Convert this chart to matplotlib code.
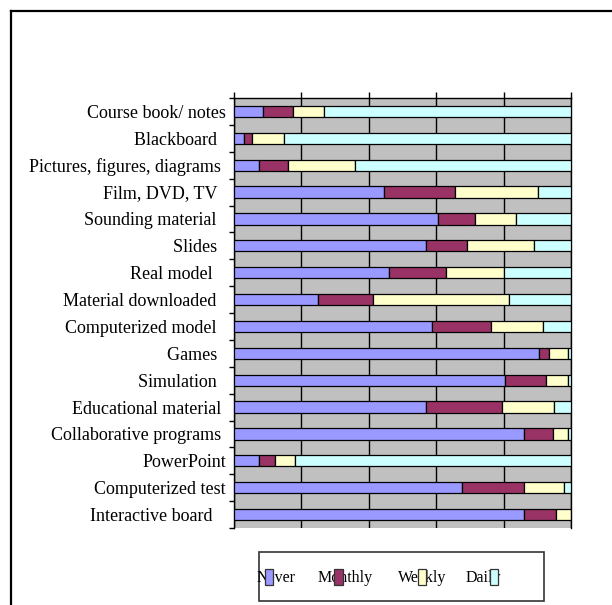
import matplotlib
matplotlib.use('Agg')
import matplotlib.pyplot as plt
from matplotlib.patches import Rectangle
import numpy as np

categories = ["Course book/ notes", "Blackboard  ", "Pictures, figures, diagrams ",
              "Film, DVD, TV  ", "Sounding material  ", "Slides  ", "Real model   ",
              "Material downloaded  ", "Computerized model  ", "Games  ", "Simulation  ",
              "Educational material ", "Collaborative programs ", "PowerPoint",
              "Computerized test", "Interactive board   "]
never   = [8.7, 3.1, 7.6, 44.6, 60.7, 57.0, 46.1, 24.9, 58.8, 90.6, 80.5, 57.0, 86.1, 7.6, 67.8, 86.1]
monthly = [8.9, 2.3, 8.6, 20.9, 10.8, 12.2, 16.8, 16.3, 17.5, 2.8, 12.0, 22.7, 8.5, 4.6, 18.3, 9.6]
weekly  = [9.1, 9.7, 19.9, 24.7, 12.3, 19.9, 17.1, 40.4, 15.4, 5.7, 6.6, 15.3, 4.5, 5.9, 11.9, 4.3]
daily   = [73.3, 84.9, 63.9, 9.8, 16.2, 10.9, 20.0, 18.4, 8.3, 0.9, 0.9, 5.0, 0.9, 81.9, 2.0, 0.0]
series_names = ["Never", "Monthly", "Weekly", "Daily"]
colors = ["#9999FF", "#993366", "#FFFFCC", "#CCFFFF"]
xticks = [0, 20, 40, 60, 80, 100]

W, H = 612, 605
fig = plt.figure(figsize=(W / 100, H / 100), dpi=100)
fig.patch.set_facecolor('white')

def fx(px):
    return px / W

def fy(py):
    return 1 - py / H

serif = 'Liberation Serif'

# outer chart frame
fig.add_artist(plt.Line2D([fx(11), fx(11)], [fy(11), fy(H + 5)], color='black', lw=1.6,
                          transform=fig.transFigure))
fig.add_artist(plt.Line2D([fx(11), fx(W + 5)], [fy(11), fy(11)], color='black', lw=1.6,
                          transform=fig.transFigure))

ax = fig.add_axes([fx(233.5), fy(528), (571 - 233.5) / W, (528 - 98) / H])
ax.set_facecolor('#C0C0C0')

y = np.arange(len(categories))
left = np.zeros(len(categories))
for vals, col in zip([never, monthly, weekly, daily], colors):
    vals = np.array(vals)
    ax.barh(y, vals, left=left, height=0.42, color=col, edgecolor='black',
            linewidth=0.9, zorder=3)
    left += vals

ax.set_xlim(0, 100)
ax.set_ylim(len(categories) - 0.5, -0.5)
ax.xaxis.tick_top()
ax.set_xticks(xticks)
ax.tick_params(axis='x', direction='out', length=4.5, width=1, color='black',
               labeltop=False, labelbottom=False)
ax.grid(axis='x', color='black', linewidth=1)
ax.set_axisbelow(True)

ax.set_yticks(y)
ax.set_yticklabels(categories, fontsize=13, family=serif)
ax.tick_params(axis='y', which='major', length=0, pad=5.5)
ax.set_yticks(np.arange(-0.5, len(categories)), minor=True)
ax.tick_params(axis='y', which='minor', length=3.6, width=1, direction='out', color='black')

for s in ['left', 'top', 'right']:
    ax.spines[s].set_color('black')
    ax.spines[s].set_linewidth(1)
ax.spines['bottom'].set_visible(False)

# legend
fig.add_artist(Rectangle((fx(258.5), fy(601)), (544 - 258.5) / W, (601 - 552) / H,
                         transform=fig.transFigure, facecolor='white', edgecolor='#333333',
                         lw=1.2, zorder=1))
text_x = [257, 318, 398, 466]
sw_x = [264.5, 334.5, 417.5, 489.5]
for name, col, tx, sx in zip(series_names, colors, text_x, sw_x):
    fig.text(fx(tx), fy(582), name, fontsize=11.5, family=serif, ha='left', va='baseline',
             zorder=2)
    fig.add_artist(Rectangle((fx(sx), fy(584.5)), 8.5 / W, 15.5 / H, transform=fig.transFigure,
                             facecolor=col, edgecolor='#333333', lw=0.9, zorder=3))

fig.savefig('out.png', dpi=100)
